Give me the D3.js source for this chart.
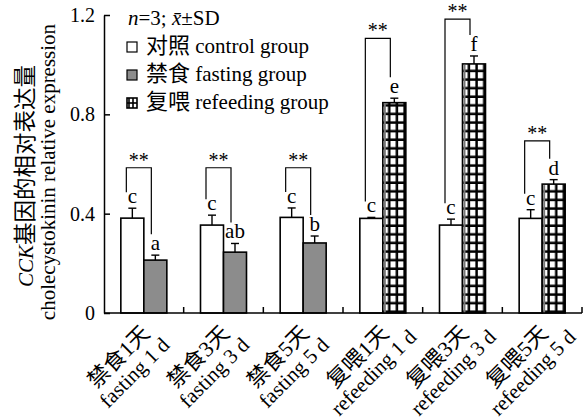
<!DOCTYPE html>
<html>
<head>
<meta charset="utf-8">
<script src="https://cdn.jsdelivr.net/npm/d3@7/dist/d3.min.js"></script>
<style>
  html, body { margin: 0; padding: 0; background: #fff; }
  svg { display: block; }
  text { font-family: "Liberation Serif", "Times New Roman", "Noto Sans CJK SC", serif; fill: #000; }
</style>
</head>
<body>
<svg id="chart" width="588" height="419"></svg>
<script>
// Sampling time points (two-line labels: Chinese / English)
const categoriesCn = ["禁食1天", "禁食3天", "禁食5天", "复喂1天", "复喂3天", "复喂5天"];
const categoriesEn = ["fasting 1 d", "fasting 3 d", "fasting 5 d", "refeeding 1 d", "refeeding 3 d", "refeeding 5 d"];

// Relative CCK expression, mean and SD (n = 3)
const controlMean = [0.382, 0.354, 0.385, 0.381, 0.354, 0.381];
const controlSD   = [0.040, 0.040, 0.038, 0.004, 0.024, 0.035];
const treatMean   = [0.213, 0.245, 0.282, 0.847, 1.003, 0.519];
const treatSD     = [0.020, 0.035, 0.028, 0.018, 0.032, 0.018];
const treatKind   = ["fasting", "fasting", "fasting", "refeeding", "refeeding", "refeeding"];

// Multiple-comparison letters and pairwise significance
const controlLetters = ["c", "c", "c", "c", "c", "c"];
const treatLetters   = ["a", "ab", "b", "e", "f", "d"];
const sigMarks       = ["**", "**", "**", "**", "**", "**"];
const sigLevel       = [0.585, 0.585, 0.585, 1.106, 1.183, 0.693];

// Axis ticks
const yTicks = [0, 0.4, 0.8, 1.2];

// Legend entries
const legendCn = ["对照", "禁食", "复喂"];
const legendEn = ["control group", "fasting group", "refeeding group"];
const legendKind = ["control", "fasting", "refeeding"];

const svg = d3.select("#chart");
const plotL = 104, plotR = 582, plotT = 15, plotB = 313;
const GRAY = "#8c8c8c";
const CJK = 22;

const x = d3.scaleBand().domain(d3.range(categoriesCn.length)).range([plotL, plotR]).paddingInner(0).paddingOuter(0);
const barW = 23;
const y = d3.scaleLinear().domain([0, 1.2]).range([plotB, plotT]);

const defs = svg.append("defs");

// grid pattern for the refeeding bars, anchored to each bar
function gridPattern(id, x0) {
  const cw = barW / 3, ch = 8.6;
  const p = defs.append("pattern").attr("id", id)
    .attr("patternUnits", "userSpaceOnUse")
    .attr("x", x0).attr("y", y(0))
    .attr("width", cw).attr("height", ch);
  p.append("rect").attr("width", cw).attr("height", ch).attr("fill", "#fff");
  p.append("rect").attr("x", cw - 2.5).attr("y", 0).attr("width", 2.5).attr("height", ch).attr("fill", "#000");
  p.append("rect").attr("x", 0).attr("y", ch - 2.5).attr("width", cw).attr("height", 2.5).attr("fill", "#000");
  return "url(#" + id + ")";
}

const rows = categoriesCn.map((c, i) => ({ i, cx: x(i) + x.bandwidth() / 2 }));

// Bars
rows.forEach(r => {
  const i = r.i;
  const cx0 = r.cx - barW, cx1 = r.cx;
  // control bar
  svg.append("rect").attr("x", cx0).attr("y", y(controlMean[i]))
    .attr("width", barW).attr("height", y(0) - y(controlMean[i]))
    .attr("fill", "#fff").attr("stroke", "#000").attr("stroke-width", 1.6);
  // treatment bar
  let fill = GRAY;
  if (treatKind[i] === "refeeding") fill = gridPattern("grid" + i, cx1);
  svg.append("rect").attr("x", cx1).attr("y", y(treatMean[i]))
    .attr("width", barW).attr("height", y(0) - y(treatMean[i]))
    .attr("fill", fill).attr("stroke", "#000").attr("stroke-width", 1.6);
  if (treatKind[i] === "refeeding") {
    svg.append("rect").attr("x", cx1 + 1).attr("y", y(treatMean[i]) + 1)
      .attr("width", 2).attr("height", y(0) - y(treatMean[i]) - 1)
      .attr("fill", "#777");
  }
});

// Error bars (upper half) and letters
function errBar(cx, m, sd, letter) {
  const yt = y(m + sd);
  svg.append("line").attr("x1", cx).attr("x2", cx).attr("y1", y(m)).attr("y2", yt)
    .attr("stroke", "#000").attr("stroke-width", 1.4);
  svg.append("line").attr("x1", cx - 4).attr("x2", cx + 4).attr("y1", yt).attr("y2", yt)
    .attr("stroke", "#000").attr("stroke-width", 1.4);
  svg.append("text").attr("x", cx).attr("y", yt - 5).attr("text-anchor", "middle")
    .attr("font-size", 21).text(letter);
  return yt - 5;
}

rows.forEach(r => {
  const i = r.i;
  const c0 = r.cx - barW / 2, c1 = r.cx + barW / 2;
  const b0 = errBar(c0, controlMean[i], controlSD[i], controlLetters[i]);
  const b1 = errBar(c1, treatMean[i], treatSD[i], treatLetters[i]);
  // significance bracket
  const lx = r.cx - barW + 5.5, rx = lx + 25;
  const hy = y(sigLevel[i]);
  svg.append("path")
    .attr("d", `M${lx},${b0 - 11}V${hy}H${rx}V${b1 - 16}`)
    .attr("fill", "none").attr("stroke", "#000").attr("stroke-width", 1.2);
  svg.append("text").attr("x", (lx + rx) / 2).attr("y", hy - 1)
    .attr("text-anchor", "middle").attr("font-size", 20).text(sigMarks[i]);
});

// Y axis
const yAxis = d3.axisLeft(y).tickValues(yTicks).tickSizeInner(-6).tickSizeOuter(0).tickPadding(9)
  .tickFormat(d => d === 0 ? "0" : d3.format(".1f")(d));
const gy = svg.append("g").attr("transform", `translate(${plotL},0)`).call(yAxis);
gy.select(".domain").attr("stroke", "#000").attr("stroke-width", 1.5);
gy.selectAll(".tick line").attr("stroke", "#000").attr("stroke-width", 1.5);
gy.selectAll(".tick text").attr("font-size", 20).attr("fill", "#000");

// X axis: baseline with inward ticks at category boundaries
svg.append("line").attr("x1", plotL).attr("x2", plotR).attr("y1", plotB).attr("y2", plotB)
  .attr("stroke", "#000").attr("stroke-width", 1.5);
rows.forEach(r => {
  const xe = x(r.i) + x.bandwidth();
  svg.append("line").attr("x1", xe).attr("x2", xe).attr("y1", plotB).attr("y2", plotB - 6)
    .attr("stroke", "#000").attr("stroke-width", 1.5);
});

// Category labels, rotated, two centred lines
rows.forEach(r => {
  const g = svg.append("g").attr("transform", `translate(${r.cx - 20},${plotB + 49}) rotate(-45)`);
  g.append("text").attr("x", 0).attr("y", 0).attr("text-anchor", "middle")
    .attr("font-size", CJK).text(categoriesCn[r.i]);
  g.append("text").attr("x", 0).attr("y", 22).attr("text-anchor", "middle")
    .attr("font-size", 21).text(categoriesEn[r.i]);
});

// Y title
const t1 = svg.append("text").attr("transform", "translate(33,176) rotate(-90)")
  .attr("text-anchor", "middle").attr("font-size", 21);
t1.append("tspan").attr("font-style", "italic").text("CCK");
t1.append("tspan").attr("font-size", CJK + 0.5).text("基因的相对表达量");
svg.append("text").attr("transform", "translate(55,172) rotate(-90)")
  .attr("text-anchor", "middle").attr("font-size", 21)
  .text("cholecystokinin relative expression");

// Legend
const note = svg.append("text").attr("x", 128).attr("y", 25).attr("font-size", 21);
note.append("tspan").attr("font-style", "italic").text("n");
note.append("tspan").text("=3; ");
note.append("tspan").attr("font-style", "italic").text("x\u0304");
note.append("tspan").text("±SD");

legendKind.forEach((k, j) => {
  const by = 42 + j * 28;
  const bx = 127;
  if (k === "control") {
    svg.append("rect").attr("x", bx).attr("y", by).attr("width", 10).attr("height", 10)
      .attr("fill", "#fff").attr("stroke", "#000").attr("stroke-width", 1.2);
  } else if (k === "fasting") {
    svg.append("rect").attr("x", bx).attr("y", by).attr("width", 10).attr("height", 10)
      .attr("fill", GRAY).attr("stroke", "#000").attr("stroke-width", 1.2);
  } else {
    svg.append("rect").attr("x", bx).attr("y", by).attr("width", 10).attr("height", 10)
      .attr("fill", "#fff").attr("stroke", "#000").attr("stroke-width", 1.6);
    svg.append("line").attr("x1", bx).attr("x2", bx + 10).attr("y1", by + 5).attr("y2", by + 5)
      .attr("stroke", "#000").attr("stroke-width", 1.6);
    svg.append("line").attr("x1", bx + 6).attr("x2", bx + 6).attr("y1", by).attr("y2", by + 10)
      .attr("stroke", "#000").attr("stroke-width", 1.6);
    svg.append("line").attr("x1", bx + 2).attr("x2", bx + 2).attr("y1", by).attr("y2", by + 10)
      .attr("stroke", "#000").attr("stroke-width", 1.6);
  }
  const t = svg.append("text").attr("x", 146).attr("y", by + 11).attr("font-size", 21);
  t.append("tspan").attr("font-size", CJK).text(legendCn[j]);
  t.append("tspan").text(" " + legendEn[j]);
});
</script>
</body>
</html>
